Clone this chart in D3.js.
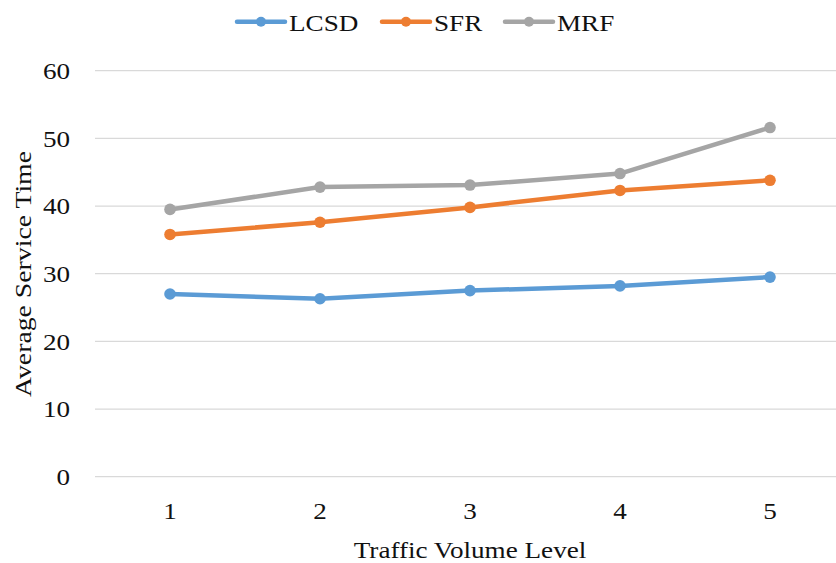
<!DOCTYPE html>
<html><head><meta charset="utf-8">
<script src="https://cdn.jsdelivr.net/npm/d3@7/dist/d3.min.js"></script>
<style>body{margin:0;background:#fff}svg{display:block}text{font-family:"Liberation Serif","Times New Roman",serif;fill:#111}</style>
</head><body><svg id="c" width="836" height="563"></svg>
<script>
const categories = ["1","2","3","4","5"];
const seriesNames = ["LCSD","SFR","MRF"];
const seriesColors = ["#5B9BD5","#ED7D31","#A5A5A5"];
const lcsd = [27.0, 26.3, 27.5, 28.2, 29.5];
const sfr  = [35.8, 37.6, 39.8, 42.3, 43.8];
const mrf  = [39.5, 42.8, 43.1, 44.8, 51.6];
const yTicks = [0,10,20,30,40,50,60];
const xTitle = "Traffic Volume Level";
const yTitle = "Average Service Time";

const seriesValues = [lcsd, sfr, mrf];
const svg = d3.select("#c");
const SX = 1.18, FS = 23;
const x = d3.scaleBand().domain(categories).range([95, 845]).padding(0);
const y = d3.scaleLinear().domain([0, 60]).range([476.7, 70.7]);

// gridlines
svg.append("g").selectAll("line").data(yTicks).join("line")
  .attr("x1", 95).attr("x2", 836).attr("y1", d => y(d)).attr("y2", d => y(d))
  .attr("stroke", "#D9D9D9").attr("stroke-width", 1.3);

// y axis labels
const ya = svg.append("g").attr("transform", "translate(95,0)")
  .call(d3.axisLeft(y).tickValues(yTicks).tickSize(0).tickPadding(0));
ya.select(".domain").remove();
ya.selectAll("text").attr("x", 0).attr("dy", "0.34em")
  .attr("transform", `translate(-25,0) scale(${SX},1)`)
  .style("font-size", FS + "px").style("font-family", "Liberation Serif").attr("fill", "#111");

// x axis labels
const xa = svg.append("g").attr("transform", "translate(0,476.7)")
  .call(d3.axisBottom(x).tickSize(0).tickPadding(0));
xa.select(".domain").remove();
xa.selectAll("text").attr("y", 0).attr("dy", 0)
  .attr("transform", `translate(0,42) scale(${SX},1)`)
  .style("font-size", FS + "px").style("font-family", "Liberation Serif").attr("fill", "#111");

// axis titles
svg.append("text").attr("transform", `translate(470,558) scale(${SX},1)`)
  .attr("text-anchor", "middle").style("font-size", FS + "px").text(xTitle);
svg.append("text").attr("transform", "translate(31,274) rotate(-90)")
  .attr("text-anchor", "middle").style("font-size", FS + "px")
  .attr("textLength", 246).attr("lengthAdjust", "spacingAndGlyphs").text(yTitle);

// lines
const line = d3.line().x((d, i) => x(categories[i]) + x.bandwidth() / 2).y(d => y(d));
seriesValues.forEach((vals, s) => {
  svg.append("path").datum(vals).attr("d", line).attr("fill", "none")
    .attr("stroke", seriesColors[s]).attr("stroke-width", 4.5).attr("stroke-linejoin", "round").attr("stroke-linecap", "round");
  svg.append("g").selectAll("circle").data(vals).join("circle")
    .attr("cx", (d, i) => x(categories[i]) + x.bandwidth() / 2).attr("cy", d => y(d))
    .attr("r", 5.8).attr("fill", seriesColors[s]);
});

// legend
const legX = [237, 382, 505];
const leg = svg.append("g");
seriesNames.forEach((n, s) => {
  const g = leg.append("g").attr("transform", `translate(${legX[s]},21.7)`);
  g.append("line").attr("x1", 0).attr("x2", 48).attr("stroke", seriesColors[s]).attr("stroke-width", 4.5).attr("stroke-linecap", "round");
  g.append("circle").attr("cx", 24).attr("r", 5).attr("fill", seriesColors[s]);
  g.append("text").attr("transform", `translate(52,9) scale(${SX},1)`).style("font-size", FS + "px").text(n);
});
</script></body></html>
